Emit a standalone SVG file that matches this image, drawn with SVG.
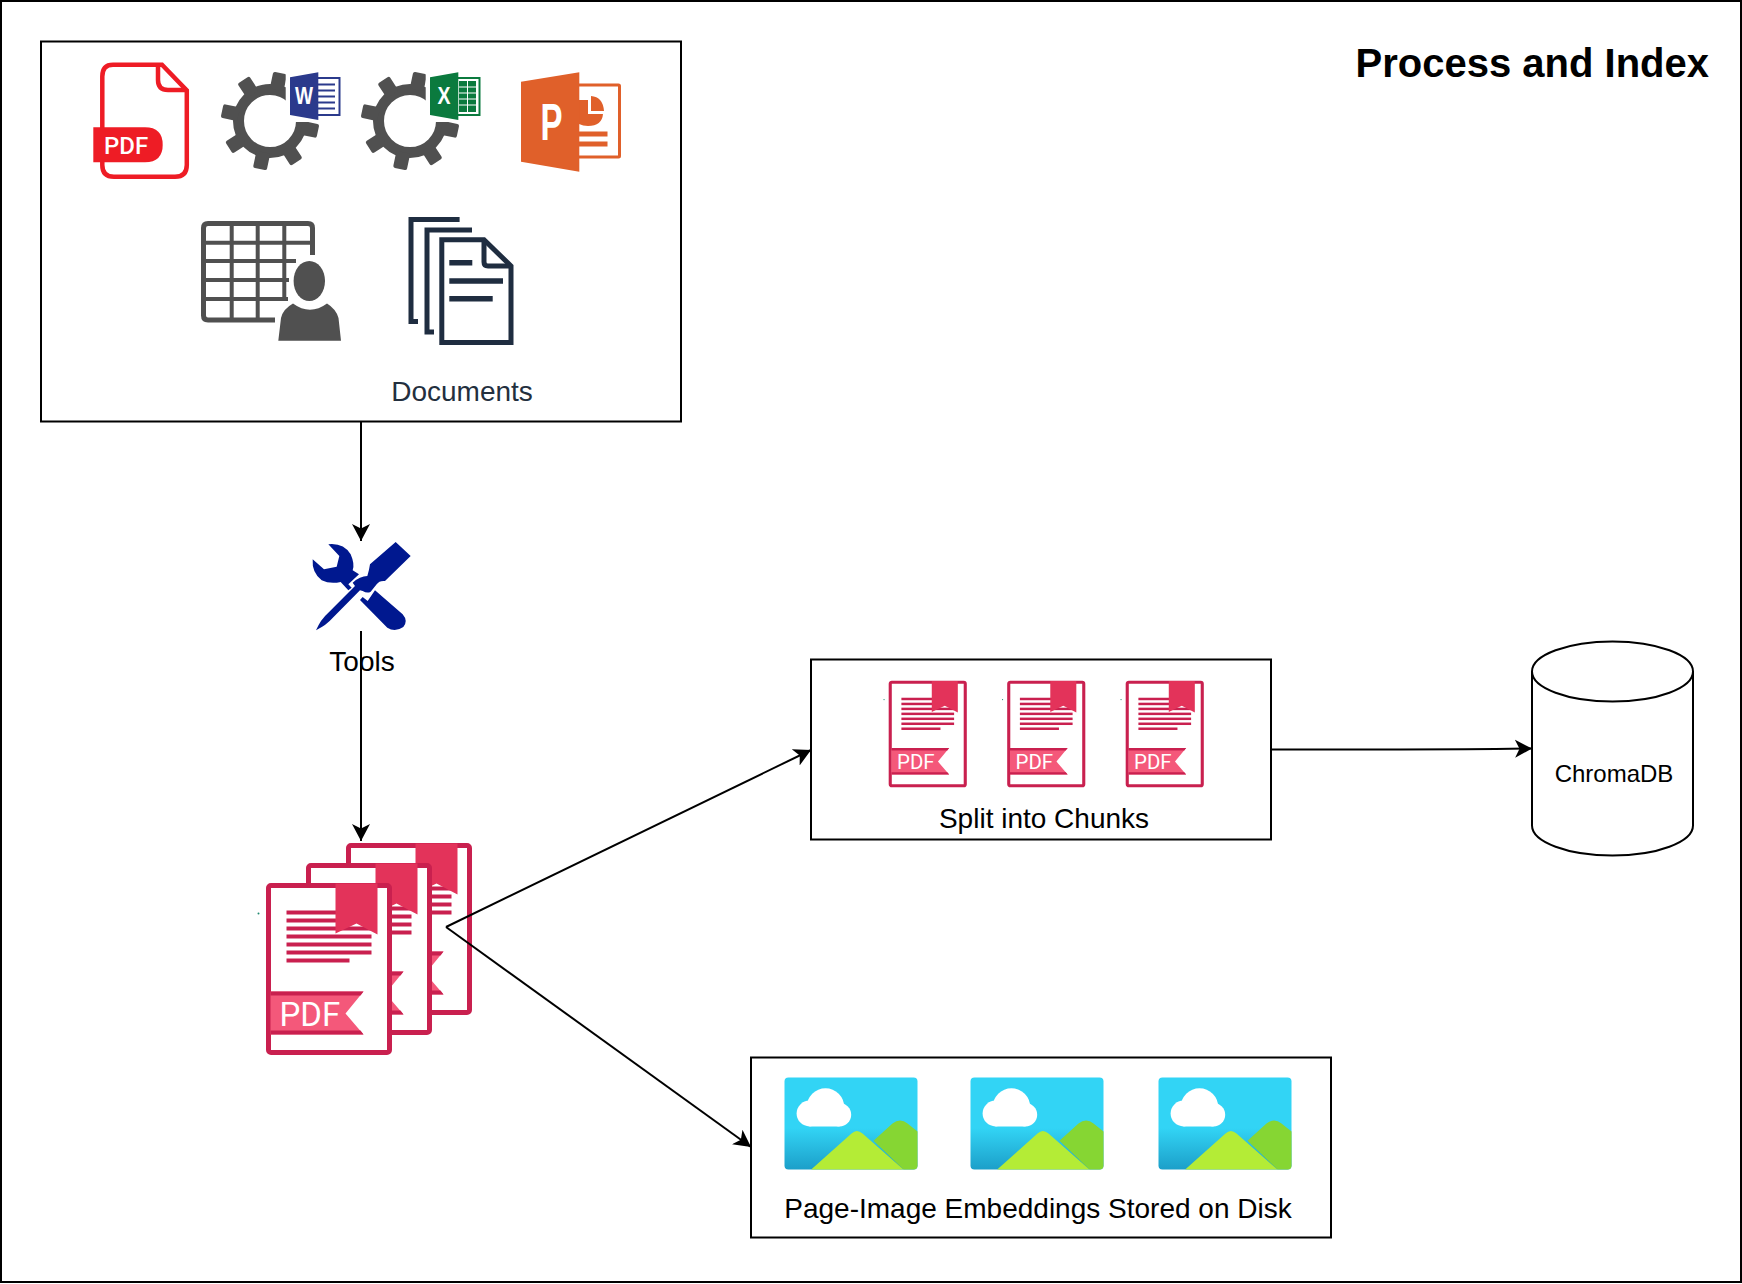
<svg xmlns="http://www.w3.org/2000/svg" xmlns:xlink="http://www.w3.org/1999/xlink" width="1742" height="1284" viewBox="0 0 1742 1284">
<style>
text{font-family:"Liberation Sans",Arial,sans-serif}
text.rb{font-family:Roboto,"Liberation Sans",sans-serif}
.box{fill:#fff;stroke:#000;stroke-width:2}
.lbl{font-size:28px;fill:#000;text-anchor:middle}
.conn{fill:none;stroke:#000;stroke-width:2;marker-end:url(#arrow)}
.gear{fill:#505050}
.pr{fill:#c9204f}
.nv{fill:none;stroke:#1f2d40;stroke-width:5}
.tb{fill:none;stroke:#505050}
</style>
<defs>
<marker id="arrow" markerUnits="userSpaceOnUse" markerWidth="20" markerHeight="20" refX="17" refY="9" orient="auto" viewBox="0 0 20 18"><path d="M0 0L17 9L0 18L4.5 9Z" fill="#000"/></marker>
<linearGradient id="sky" x1="0" y1="0" x2="0" y2="1"><stop offset="0.55" stop-color="#32d4f5"/><stop offset="1" stop-color="#1c9fc9"/></linearGradient>
<g id="gearshape">
<circle r="31.5" fill="none" stroke="#505050" stroke-width="11"/>
<g class="gear" transform="rotate(12)">
<rect x="-7" y="-49" width="14" height="17" rx="2"/>
<rect x="-7" y="-49" width="14" height="17" rx="2" transform="rotate(45)"/>
<rect x="-7" y="-49" width="14" height="17" rx="2" transform="rotate(90)"/>
<rect x="-7" y="-49" width="14" height="17" rx="2" transform="rotate(135)"/>
<rect x="-7" y="-49" width="14" height="17" rx="2" transform="rotate(180)"/>
<rect x="-7" y="-49" width="14" height="17" rx="2" transform="rotate(225)"/>
<rect x="-7" y="-49" width="14" height="17" rx="2" transform="rotate(270)"/>
<rect x="-7" y="-49" width="14" height="17" rx="2" transform="rotate(315)"/>
</g>
</g>
<g id="pdfdoc">
<circle cx="-8" cy="30" r="1" fill="#1f8a70"/>
<rect x="2" y="2" width="121" height="167" rx="2.500" fill="#fff" stroke="#c9204f" stroke-width="5"/>
<g class="pr">
<rect x="20" y="27" width="85" height="4"/><rect x="20" y="35" width="85" height="4"/><rect x="20" y="43" width="85" height="4"/><rect x="20" y="51" width="85" height="4"/><rect x="20" y="59" width="85" height="4"/><rect x="20" y="67" width="85" height="4"/><rect x="20" y="75" width="63" height="4"/>
</g>
<path d="M69 0H111V51L90 40L69 50Z" fill="#e3335a"/>
<path d="M4 108H97L79 130L97 151H4Z" fill="#f4587a"/>
<path d="M4 108H97L94 112H4ZM4 147H94L97 151H4Z" fill="#c9204f"/>
<text class="rb" x="13" y="142" font-size="33" fill="#fff">PDF</text>
</g>
<g id="imgicon">
<rect width="133" height="92" rx="4" fill="url(#sky)"/>
<path d="M89 63.3L108 46Q115.700 40 123 46L133 54V88Q133 92 129 92H119Z" fill="#86d633"/>
<path d="M26.700 92L67 56Q72.300 51 78 56L119 92Z" fill="#b4ec36"/>
<g fill="#fff"><circle cx="41" cy="29.500" r="18.700"/><circle cx="25" cy="36" r="12.900"/><circle cx="55" cy="37.300" r="11.700"/><rect x="25" y="32" width="30" height="17"/></g>
</g>
</defs>

<g id="frame"><rect x="1" y="1" width="1740" height="1281" fill="#fff" stroke="#000" stroke-width="2"/></g>
<g id="title"><text x="1709" y="77" font-size="40" font-weight="700" text-anchor="end">Process and Index</text></g>

<g id="documents">
<rect class="box" x="41" y="41.500" width="640" height="380"/>
<g id="icon-pdf">
<path d="M113 64.800H162L186.800 90.500V165Q186.800 176.800 175 176.800H114Q102.300 176.800 102.300 165V76.500Q102.300 64.800 113 64.800Z" fill="#fff" stroke="#ee1c25" stroke-width="4.500"/>
<path d="M158 65V80Q158 90 168 90H187" fill="none" stroke="#ee1c25" stroke-width="4.500"/>
<path d="M93.300 127.300H145Q162.700 127.300 162.700 144.800Q162.700 162.300 145 162.300H93.300Z" fill="#ee1c25"/>
<text class="rb" x="104" y="154" font-size="24" font-weight="500" fill="#fff">PDF</text>
</g>
<g id="icon-word">
<use xlink:href="#gearshape" href="#gearshape" transform="translate(270 121)"/>
<rect x="285.700" y="65" width="60" height="57" fill="#fff"/>
<rect x="316" y="78" width="23.500" height="37" fill="#fff" stroke="#2b3a8c" stroke-width="2"/>
<path d="M318 84.500H335M318 90.500H335M318 96.500H335M318 102.500H335M318 108.500H335" stroke="#2b3a8c" stroke-width="2.200"/>
<path d="M290 77.300L318.300 72.300V120L290 115Z" fill="#2b3a8c"/>
<text x="304" y="104" font-size="24" font-weight="700" fill="#fff" text-anchor="middle" textLength="18" lengthAdjust="spacingAndGlyphs">W</text>
</g>
<g id="icon-excel">
<use xlink:href="#gearshape" href="#gearshape" transform="translate(410 121)"/>
<rect x="425.700" y="65" width="60" height="57" fill="#fff"/>
<rect x="456" y="78" width="23.500" height="37" fill="#fff" stroke="#0b7a3e" stroke-width="2"/>
<rect x="459" y="81" width="17" height="31" fill="#0b7a3e"/>
<path d="M459 87H476M459 93H476M459 99H476M459 105H476M467.500 81V112" stroke="#fff" stroke-width="1"/>
<path d="M430 77.300L458.300 72.300V120L430 115Z" fill="#0b7a3e"/>
<text x="444" y="104" font-size="24" font-weight="700" fill="#fff" text-anchor="middle" textLength="13" lengthAdjust="spacingAndGlyphs">X</text>
</g>
<g id="icon-ppt">
<rect x="577" y="85" width="42.500" height="72" rx="1" fill="#fff" stroke="#e0602a" stroke-width="3"/>
<path d="M579 134H607.500M579 144H607.500" stroke="#e0602a" stroke-width="5"/>
<path d="M583 100H588V114H603Q602 126 588 126Q583 126 579 124V100Z" fill="#e0602a"/>
<path d="M591 96Q603 97 604 111H591Z" fill="#e0602a"/>
<path d="M521 81.700L579.300 72.300V171.700L521 161.700Z" fill="#e0602a"/>
<text x="540.500" y="140" font-size="51" font-weight="700" fill="#fff" textLength="22" lengthAdjust="spacingAndGlyphs">P</text>
</g>
<g id="icon-table">
<path class="tb" stroke-width="5" d="M312.500 255V228Q312.500 223.500 308 223.500H208Q203.500 223.500 203.500 228V315.500Q203.500 320 208 320H275"/>
<path class="tb" stroke-width="4" d="M231.700 223V320M257.700 223V320M284.300 223V300M203 242.700H314M203 261H296M203 280H289M203 299H288"/>
<path d="M278.300 340.700L281 318Q283 309 293 303.500Q310 316 327 303.500Q336 309 338.500 318L341 340.700Z" fill="#505050" stroke="#fff" stroke-width="6" paint-order="stroke"/>
<ellipse cx="309.300" cy="281" rx="15.700" ry="20" fill="#505050" stroke="#fff" stroke-width="6" paint-order="stroke"/>
</g>
<g id="icon-docs">
<path class="nv" d="M459.600 219.500H411V321.500H418"/>
<path class="nv" d="M472 230H427V332H434"/>
<path class="nv" d="M441.800 239.800H484L511 266V342.500H441.800Z" fill="#fff"/>
<path class="nv" d="M484 240V262Q484 266 488 266H511"/>
<path d="M449.300 262.700H472.300M449.300 281H503M449.300 298.700H492.700" stroke="#1f2d40" stroke-width="5.500"/>
</g>
<text x="462" y="401" font-size="28" fill="#232f3e" text-anchor="middle">Documents</text>
</g>

<g id="tools">
<g transform="translate(280 521) scale(.33333)" fill="#00188f">
<path d="M145 70Q190 65 212 100Q225 130 218 148L237 160L205 190L215 200L205 208L182 183Q150 190 125 178Q95 155 98 115L132 145L170 137L178 105Z"/>
<path d="M285 208L368 280Q385 300 370 318Q345 335 322 320L240 237L248 228L263 240Z"/>
<path d="M347 63L392 105L315 180Q298 178 290 190L272 212Q262 218 248 210L240 208L157 292Q140 312 108 328Q122 295 145 275L225 195L218 185Q240 165 262 165Q268 145 270 130Z"/>
</g>
<text class="lbl" x="362" y="671">Tools</text>
</g>

<g id="pdfs">
<use xlink:href="#pdfdoc" href="#pdfdoc" transform="translate(346.500 843.500)"/>
<use xlink:href="#pdfdoc" href="#pdfdoc" transform="translate(306.500 863.500)"/>
<use xlink:href="#pdfdoc" href="#pdfdoc" transform="translate(266.500 883.500)"/>
</g>

<g id="chunks">
<rect class="box" x="811" y="659.500" width="460" height="180"/>
<use xlink:href="#pdfdoc" href="#pdfdoc" transform="translate(889 681) scale(.62)"/>
<use xlink:href="#pdfdoc" href="#pdfdoc" transform="translate(1007.500 681) scale(.62)"/>
<use xlink:href="#pdfdoc" href="#pdfdoc" transform="translate(1126 681) scale(.62)"/>
<text class="lbl" x="1044" y="828">Split into Chunks</text>
</g>

<g id="embeddings">
<rect class="box" x="751" y="1057.500" width="580" height="180"/>
<use xlink:href="#imgicon" href="#imgicon" transform="translate(784.500 1077.500)"/>
<use xlink:href="#imgicon" href="#imgicon" transform="translate(970.500 1077.500)"/>
<use xlink:href="#imgicon" href="#imgicon" transform="translate(1158.500 1077.500)"/>
<text class="lbl" x="1038" y="1218">Page-Image Embeddings Stored on Disk</text>
</g>

<g id="chromadb">
<path d="M1532 671.500A80.500 30 0 0 1 1693 671.500V825.500A80.500 30 0 0 1 1532 825.500Z" fill="#fff" stroke="#000" stroke-width="2"/>
<path d="M1532 671.500A80.500 30 0 0 0 1693 671.500" fill="none" stroke="#000" stroke-width="2"/>
<text x="1614" y="782" font-size="24" text-anchor="middle">ChromaDB</text>
</g>

<g id="connectors">
<path class="conn" d="M361 421.500V541"/>
<path class="conn" d="M361 631V841"/>
<path class="conn" d="M446 927L811 750"/>
<path class="conn" d="M446 927L751 1147"/>
<path class="conn" d="M1271 749.500H1400Q1470 749.500 1532 748.500"/>
</g>
</svg>
